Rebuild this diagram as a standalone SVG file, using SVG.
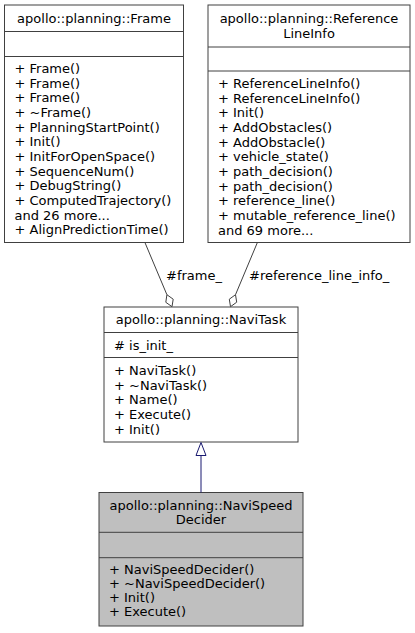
<svg xmlns="http://www.w3.org/2000/svg" width="415" height="633" viewBox="0 0 415 633">
<defs>
<style>
text{font-family:"DejaVu Sans","Liberation Sans",sans-serif;font-size:13px;fill:#000}
.c{text-anchor:middle}
.box{fill:#fff;stroke:#404040;stroke-width:1}
.focus{fill:#bfbfbf;stroke:#404040;stroke-width:1}
.sep{stroke:#404040;stroke-width:1;fill:none}
.agg{stroke:#404040;stroke-width:1;fill:none}
.dia{stroke:#404040;stroke-width:1;fill:#fff}
.inh{stroke:#191970;stroke-width:1;fill:none}
.tri{stroke:#191970;stroke-width:1;fill:#fff}
</style>
</defs>
<rect width="415" height="633" fill="#fff"/>
<g id="node-frame">
<rect class="box" x="4.5" y="5" width="179" height="237.5"/>
<line class="sep" x1="4.5" y1="31.5" x2="183.5" y2="31.5"/>
<line class="sep" x1="4.5" y1="56.5" x2="183.5" y2="56.5"/>
<text class="c" x="94" y="22.8">apollo::planning::Frame</text>
<text x="14.5" y="73.1">+ Frame()</text>
<text x="14.5" y="87.8">+ Frame()</text>
<text x="14.5" y="102.4">+ Frame()</text>
<text x="14.5" y="117.1">+ ~Frame()</text>
<text x="14.5" y="131.8">+ PlanningStartPoint()</text>
<text x="14.5" y="146.4">+ Init()</text>
<text x="14.5" y="161.1">+ InitForOpenSpace()</text>
<text x="14.5" y="175.8">+ SequenceNum()</text>
<text x="14.5" y="190.4">+ DebugString()</text>
<text x="14.5" y="205.1">+ ComputedTrajectory()</text>
<text x="14.5" y="219.8">and 26 more...</text>
<text x="14.5" y="234.4">+ AlignPredictionTime()</text>
</g>
<g id="node-reference-line-info">
<rect class="box" x="208" y="5" width="202" height="237.5"/>
<line class="sep" x1="208" y1="47" x2="410" y2="47"/>
<line class="sep" x1="208" y1="71" x2="410" y2="71"/>
<text class="c" x="309" y="23.2">apollo::planning::Reference</text>
<text class="c" x="309" y="37.8">LineInfo</text>
<text x="218" y="88">+ ReferenceLineInfo()</text>
<text x="218" y="102.7">+ ReferenceLineInfo()</text>
<text x="218" y="117.3">+ Init()</text>
<text x="218" y="132">+ AddObstacles()</text>
<text x="218" y="146.7">+ AddObstacle()</text>
<text x="218" y="161.3">+ vehicle_state()</text>
<text x="218" y="176">+ path_decision()</text>
<text x="218" y="190.7">+ path_decision()</text>
<text x="218" y="205.3">+ reference_line()</text>
<text x="218" y="220">+ mutable_reference_line()</text>
<text x="218" y="234.7">and 69 more...</text>
</g>
<g id="node-navitask">
<rect class="box" x="104" y="307" width="194" height="135"/>
<line class="sep" x1="104" y1="332.5" x2="298" y2="332.5"/>
<line class="sep" x1="104" y1="357.5" x2="298" y2="357.5"/>
<text class="c" x="201" y="324.3">apollo::planning::NaviTask</text>
<text x="114" y="349.5"># is_init_</text>
<text x="114" y="374.9">+ NaviTask()</text>
<text x="114" y="389.6">+ ~NaviTask()</text>
<text x="114" y="404.2">+ Name()</text>
<text x="114" y="418.9">+ Execute()</text>
<text x="114" y="433.6">+ Init()</text>
</g>
<g id="node-navispeeddecider">
<rect class="focus" x="99" y="492.5" width="204" height="133.5"/>
<line class="sep" x1="99" y1="532.3" x2="303" y2="532.3"/>
<line class="sep" x1="99" y1="557.7" x2="303" y2="557.7"/>
<text class="c" x="201" y="509.7">apollo::planning::NaviSpeed</text>
<text class="c" x="201" y="524.3">Decider</text>
<text x="109" y="573.5">+ NaviSpeedDecider()</text>
<text x="109" y="587.8">+ ~NaviSpeedDecider()</text>
<text x="109" y="602">+ Init()</text>
<text x="109" y="616.3">+ Execute()</text>
</g>
<g id="connectors">
<line class="agg" x1="145" y1="242.7" x2="166.9" y2="294.7"/>
<polygon class="dia" points="172,306.7 173.2,299.2 166.9,294.7 165.8,302.3"/>
<text x="166" y="280">#frame_</text>
<line class="agg" x1="257.3" y1="242.7" x2="235.5" y2="294.7"/>
<polygon class="dia" points="230.5,306.7 229.3,299.2 235.5,294.7 236.7,302.2"/>
<text x="249" y="280">#reference_line_info_</text>
<line class="inh" x1="201" y1="455.5" x2="201" y2="492.5"/>
<polygon class="tri" points="201,442.5 206,455.5 196,455.5"/>
</g>
</svg>
